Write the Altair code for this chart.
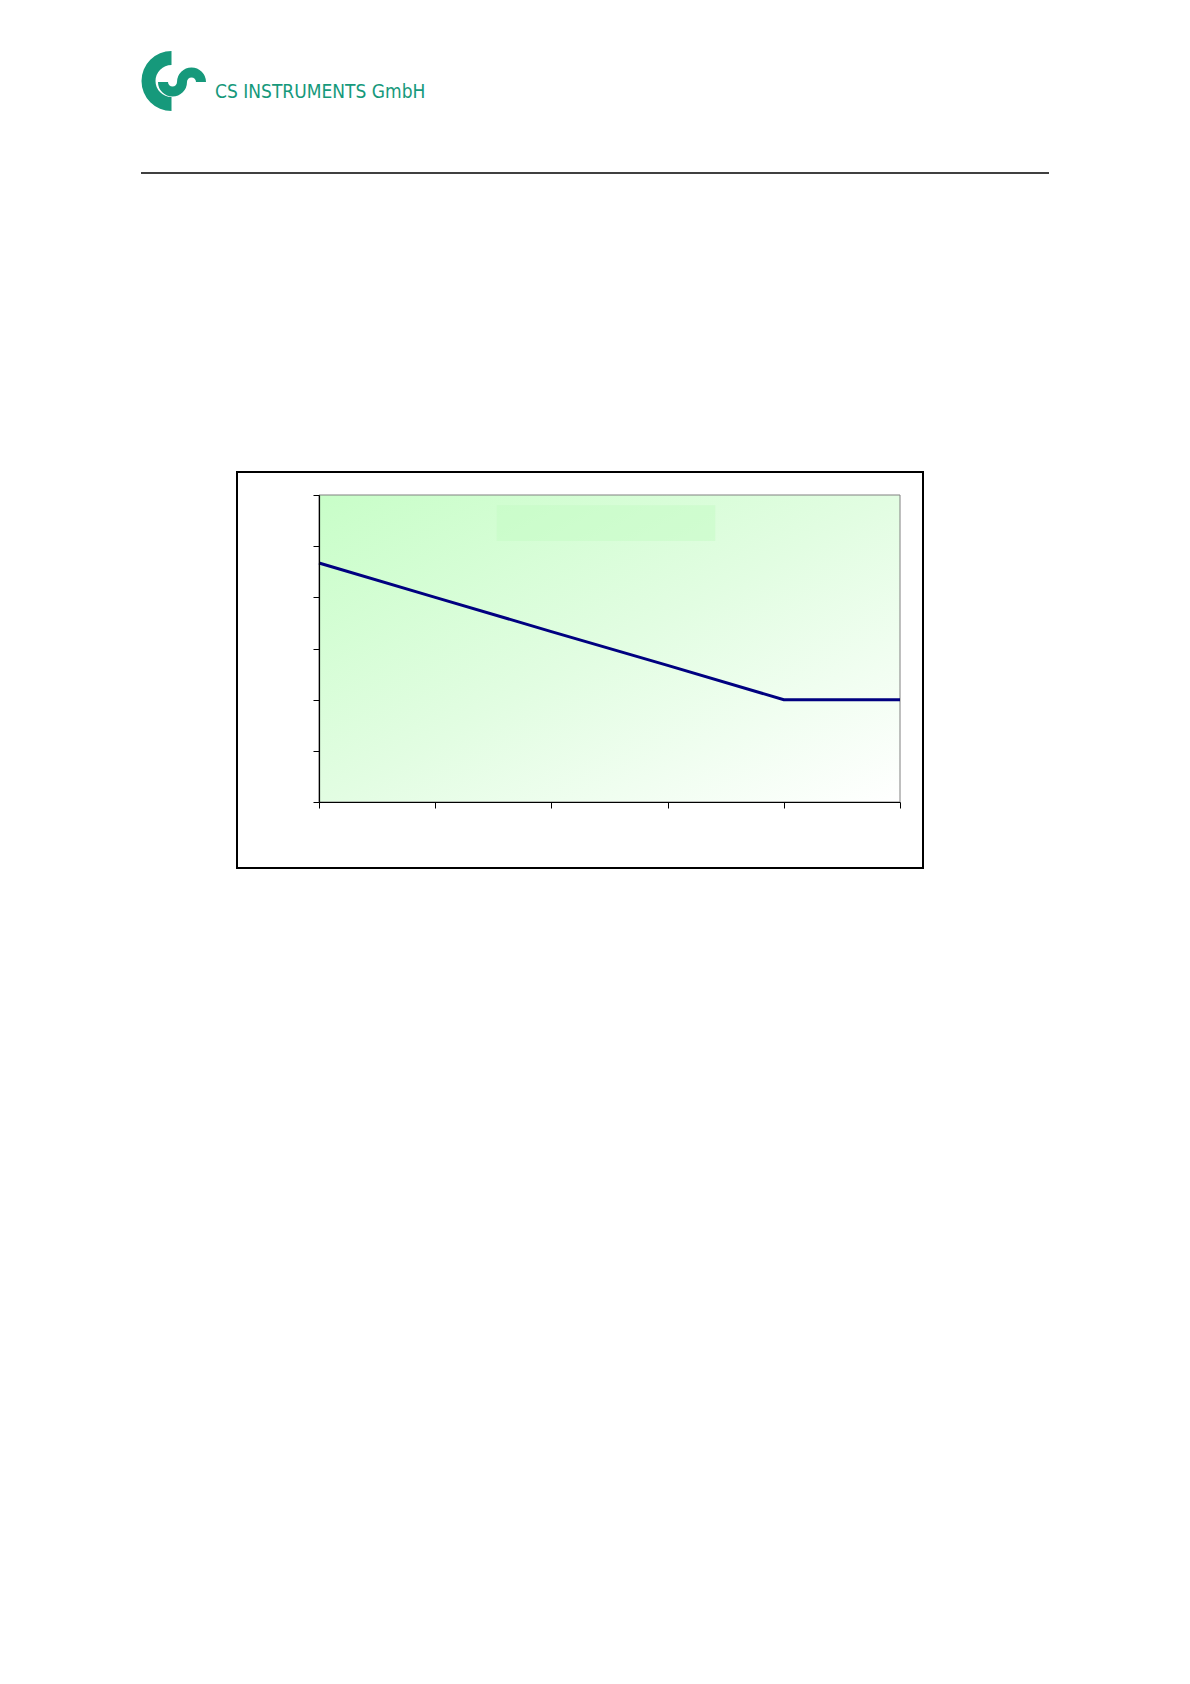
import math
import altair as alt
import pandas as pd

# ---- chart data ----
x_values = [0, 1, 2, 3, 4, 5]
y_values = [4.67, 4.0, 3.33, 2.67, 2.0, 2.0]
x_ticks = [0, 1, 2, 3, 4, 5]
y_ticks = [0, 1, 2, 3, 4, 5, 6]

# faint (blanked) title box inside the plot, in data units
title_box_x = [1.53, 3.41]
title_box_y = [5.10, 5.80]

# ---- decoration text ----
company_name = "CS INSTRUMENTS GmbH"

GREEN = "#16997b"
NAVY = "#000080"

W, H = 581, 307

df = pd.DataFrame({"x": x_values, "y": y_values})
one = alt.Data(values=[{"a": 1}])

xscale = alt.Scale(domain=[0, 5], nice=False, zero=False)
yscale = alt.Scale(domain=[0, 6], nice=False, zero=False)

xaxis = alt.Axis(values=x_ticks, labels=False, title=None, grid=False,
                 tickSize=6, tickColor="black", domainColor="black",
                 domainWidth=1.2, tickWidth=1, zindex=1)
yaxis = alt.Axis(values=y_ticks, labels=False, title=None, grid=False,
                 tickSize=6, tickColor="black", domainColor="black",
                 domainWidth=1.2, tickWidth=1, zindex=1)

grad = alt.LinearGradient(
    gradient="linear",
    stops=[alt.GradientStop(color="#c8fec8", offset=0),
           alt.GradientStop(color="#e2fde2", offset=0.5),
           alt.GradientStop(color="#ffffff", offset=1)],
    x1=0, y1=0, x2=1, y2=1,
)

background = alt.Chart(one).mark_rect(fill=grad, stroke="#808080", strokeWidth=1).encode(
    x=alt.datum(0, scale=xscale, axis=xaxis, type="quantitative"),
    x2=alt.datum(5),
    y=alt.datum(0, scale=yscale, axis=yaxis, type="quantitative"),
    y2=alt.datum(6),
)

title_box = alt.Chart(one).mark_rect(color="#c3fbc3", opacity=0.5).encode(
    x=alt.datum(title_box_x[0], type="quantitative"),
    x2=alt.datum(title_box_x[1]),
    y=alt.datum(title_box_y[0], type="quantitative"),
    y2=alt.datum(title_box_y[1]),
)

line = alt.Chart(df).mark_line(color=NAVY, strokeWidth=3).encode(
    x=alt.X("x:Q", scale=xscale, axis=xaxis),
    y=alt.Y("y:Q", scale=yscale, axis=yaxis),
)

# outer chart frame
frame = alt.Chart(one).mark_rect(filled=False, stroke="black", strokeWidth=2).encode(
    x=alt.value(-82), x2=alt.value(604), y=alt.value(-23), y2=alt.value(373)
)

# header rule
header_rule = alt.Chart(one).mark_rule(color="black", strokeWidth=1.3).encode(
    x=alt.value(-178), x2=alt.value(730), y=alt.value(-322)
)

# logo: C ring and S wave made of arcs
logo_c = alt.Chart(one).mark_arc(
    theta=math.pi, theta2=2 * math.pi, radius=30, radius2=16, color=GREEN
).encode(x=alt.value(-147.5), y=alt.value(-414))

logo_s1 = alt.Chart(one).mark_arc(
    theta=math.pi / 2, theta2=3 * math.pi / 2, radius=14.5, radius2=4.5, color=GREEN
).encode(x=alt.value(-146.5), y=alt.value(-413))

logo_s2 = alt.Chart(one).mark_arc(
    theta=3 * math.pi / 2, theta2=5 * math.pi / 2, radius=14.5, radius2=4.5, color=GREEN
).encode(x=alt.value(-127.5), y=alt.value(-413))

logo_text = alt.Chart(one).mark_text(
    text=company_name, font="Liberation Sans Narrow, DejaVu Sans Condensed, sans-serif",
    fontSize=19, color=GREEN, align="left", baseline="alphabetic"
).encode(x=alt.value(-104), y=alt.value(-397))

chart = alt.layer(
    background, title_box, line, frame, header_rule,
    logo_c, logo_s1, logo_s2, logo_text
).properties(
    width=W, height=H,
    autosize=alt.AutoSizeParams(type="none"),
    padding={"left": 311, "top": 487, "right": 281, "bottom": 874},
).configure_view(stroke=None)

chart.save("out.html", embed_options={"renderer": "svg", "actions": False})
